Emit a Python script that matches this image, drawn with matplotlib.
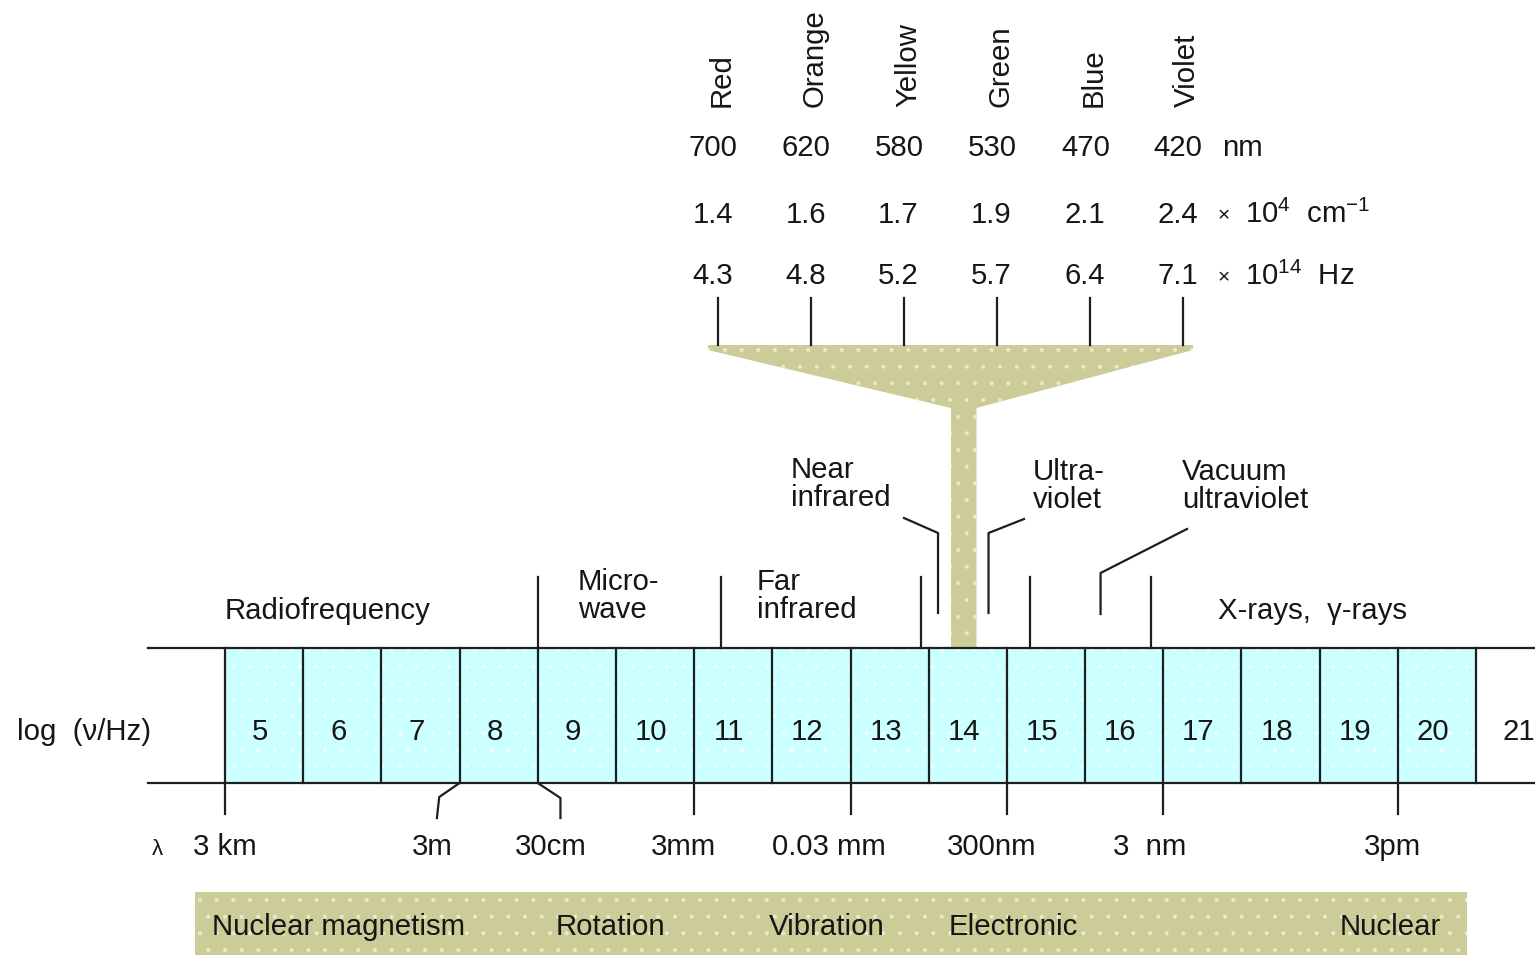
import matplotlib
matplotlib.use("Agg")
import matplotlib.pyplot as plt
from matplotlib.patches import Rectangle, Polygon

plt.rcParams.update({
    "font.family": "Liberation Sans",
    "font.size": 21.2,
    "mathtext.default": "regular",
    "hatch.linewidth": 0.5,
})

# band cells: log10(nu / Hz)
LOG_NU = list(range(5, 21))
LAST_CELL = 21

# wavelength marks under the band (log nu of tick, label, label centre)
WL_NU = [5, 8, 9, 11, 13, 15, 17, 20]
WL_LABELS = ["3 km", "3m", "30cm", "3mm", "0.03 mm", "300nm", "3  nm", "3pm"]
WL_LABEL_AT = [5.0, 7.65, 9.17, 10.86, 12.72, 14.80, 16.83, 19.93]

# region boundaries marked above the band (log nu)
REGION_BOUNDS = [9.0, 11.34, 13.9, 15.3, 16.84]

# visible window
COLOURS = ["Red", "Orange", "Yellow", "Green", "Blue", "Violet"]
NM = ["700", "620", "580", "530", "470", "420"]
WAVENUMBER = ["1.4", "1.6", "1.7", "1.9", "2.1", "2.4"]
FREQ = ["4.3", "4.8", "5.2", "5.7", "6.4", "7.1"]
COLOUR_TICKS = [11.305, 12.495, 13.684, 14.873, 16.063, 17.252]

# bottom bar: type of transition
BANDS = ["Nuclear magnetism", "Rotation", "Vibration", "Electronic", "Nuclear"]
BANDS_AT = [4.83, 9.23, 11.96, 14.26, 19.25]

LINE = "#1e1e1e"
TXT = "#161616"
CYAN = "#ccffff"
KHAKI = "#cccc99"
LW = 1.6

fig = plt.figure(figsize=(15.35, 9.55), dpi=100)
ax = fig.add_axes([0, 0, 1, 1])
ax.set_xlim(2.1224, 21.754)
ax.set_ylim(955, 0)
ax.axis("off")

Y_TOP, Y_BOT = 648, 783

# band cells
for v in LOG_NU:
    ax.add_patch(Rectangle((v, Y_TOP), 1, Y_BOT - Y_TOP, facecolor=CYAN,
                           edgecolor="none", zorder=1))
    ax.text(v + 0.45, 732, str(v), ha="center", va="center", color=TXT)
ax.add_patch(Rectangle((LOG_NU[0], Y_TOP), len(LOG_NU), Y_BOT - Y_TOP,
                       facecolor="none", edgecolor="#f2ffff", hatch=".",
                       linewidth=0, zorder=1.5))
ax.text(LAST_CELL + 0.55, 732, str(LAST_CELL), ha="center", va="center", color=TXT)
for v in LOG_NU + [LOG_NU[-1] + 1]:
    ax.plot([v, v], [Y_TOP, Y_BOT], color=LINE, lw=LW, zorder=3)
ax.plot([4.015, 21.754], [Y_TOP, Y_TOP], color=LINE, lw=LW, zorder=3)
ax.plot([4.015, 21.754], [Y_BOT, Y_BOT], color=LINE, lw=LW, zorder=3)
ax.text(2.34, 732, "log  (ν/Hz)", ha="left", va="center", color=TXT)

# region boundaries and labels above the band
for b in REGION_BOUNDS:
    ax.plot([b, b], [577, Y_TOP], color=LINE, lw=LW, zorder=3)
ax.text(5.0, 611, "Radiofrequency", ha="left", va="center", color=TXT)
ax.text(9.515, 596, "Micro-\nwave", ha="left", va="center", color=TXT,
        linespacing=1.0)
ax.text(11.804, 596, "Far\ninfrared", ha="left", va="center", color=TXT,
        linespacing=1.0)
ax.text(12.239, 484, "Near\ninfrared", ha="left", va="center", color=TXT,
        linespacing=1.0)
ax.text(15.334, 486, "Ultra-\nviolet", ha="left", va="center", color=TXT,
        linespacing=1.0)
ax.text(17.24, 486, "Vacuum\nultraviolet", ha="left", va="center", color=TXT,
        linespacing=1.0)
ax.text(17.70, 611, "X-rays,  γ-rays", ha="left", va="center", color=TXT)

# pointers
ax.plot([13.684, 14.119, 14.119], [518, 533, 613], color=LINE, lw=LW)
ax.plot([15.219, 14.765, 14.765], [519, 533, 613], color=LINE, lw=LW)
ax.plot([17.303, 16.198, 16.198], [529, 573, 614], color=LINE, lw=LW)

# funnel to the visible window
funnel = [(11.177, 345), (17.380, 345), (17.380, 350), (14.611, 408),
          (14.611, Y_TOP), (14.285, Y_TOP), (14.285, 408), (11.177, 350)]
ax.add_patch(Polygon(funnel, closed=True, facecolor=KHAKI, edgecolor="none",
                     zorder=2))
ax.add_patch(Polygon(funnel, closed=True, facecolor="none", edgecolor="#eaeacc",
                     hatch=".", linewidth=0, zorder=2.1))

for x, c, nm, wn, f in zip(COLOUR_TICKS, COLOURS, NM, WAVENUMBER, FREQ):
    ax.plot([x, x], [298, 345], color=LINE, lw=LW)
    ax.text(x + 0.05, 107, c, rotation=90, ha="center", va="bottom", color=TXT)
    ax.text(x - 0.06, 148, nm, ha="center", va="center", color=TXT)
    ax.text(x - 0.07, 215, wn, ha="center", va="center", color=TXT)
    ax.text(x - 0.07, 276, f, ha="center", va="center", color=TXT)
ax.text(17.751, 148, "nm", ha="left", va="center", color=TXT)
ax.text(17.70, 216, "×", ha="left", va="center", color=TXT, fontsize=15)
ax.text(18.05, 214, "10$^{4}$  cm$^{-1}$", ha="left", va="center", color=TXT)
ax.text(17.70, 278, "×", ha="left", va="center", color=TXT, fontsize=15)
ax.text(18.05, 276, "10$^{14}$  Hz", ha="left", va="center", color=TXT)

# wavelength marks below the band
for v in WL_NU:
    if v == 8:
        ax.plot([v, v - 0.26, v - 0.29], [Y_BOT, 797, 818], color=LINE, lw=LW)
    elif v == 9:
        ax.plot([v, v + 0.29, v + 0.29], [Y_BOT, 798, 818], color=LINE, lw=LW)
    else:
        ax.plot([v, v], [Y_BOT, 814], color=LINE, lw=LW)
for lab, x in zip(WL_LABELS, WL_LABEL_AT):
    ax.text(x, 847, lab, ha="center", va="center", color=TXT)
ax.text(4.13, 849, "λ", ha="center", va="center", color=TXT, fontsize=16)

# bottom bar
ax.add_patch(Rectangle((4.616, 892), 16.268, 70, facecolor=KHAKI,
                       edgecolor="none", zorder=1))
ax.add_patch(Rectangle((4.616, 892), 16.268, 70, facecolor="none",
                       edgecolor="#eaeacc", hatch=".", linewidth=0, zorder=1.1))
for lab, x in zip(BANDS, BANDS_AT):
    ax.text(x, 927, lab, ha="left", va="center", color=TXT)

fig.savefig("out.png", dpi=100, facecolor="white")
